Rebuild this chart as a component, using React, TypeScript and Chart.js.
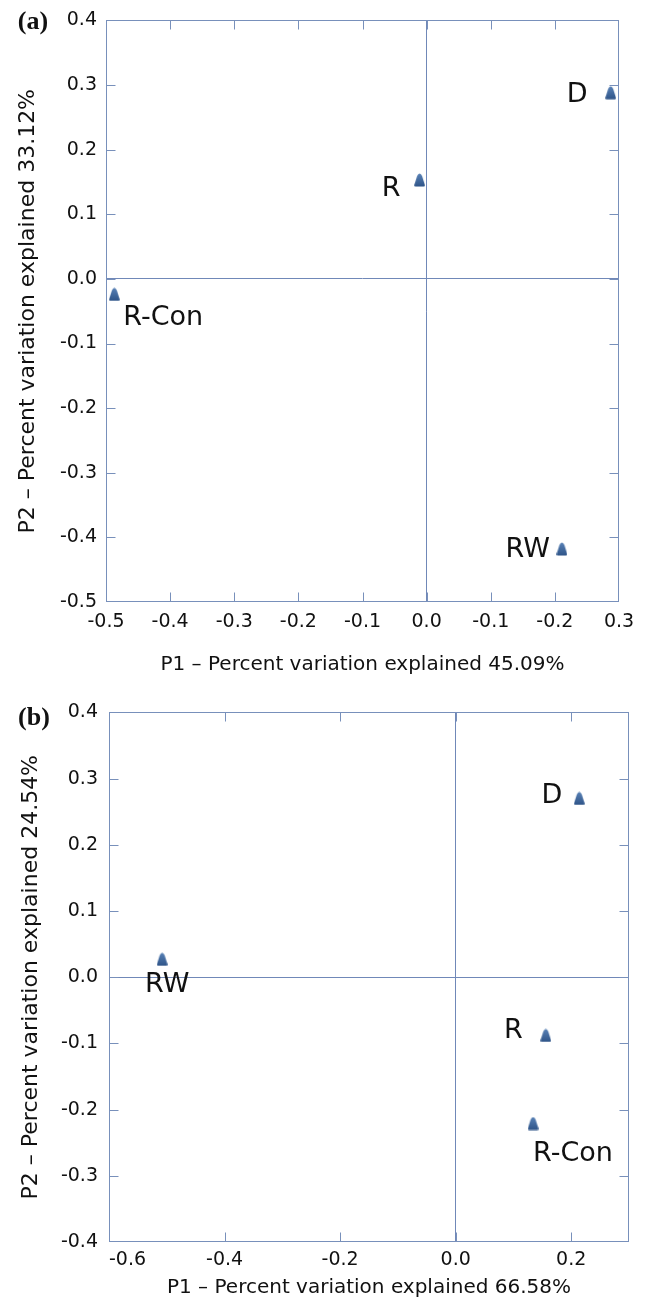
import React, { useEffect, useRef } from 'react';
import { Chart, registerables } from 'chart.js';

Chart.register(...registerables);

const FONT = '"DejaVu Sans", "Open Sans", sans-serif';
const TEXT = '#111111';
const BORDER = '#7890bb';
const ZERO = '#7088b8';
const MARK_TOP = '#5a83b8';
const MARK_BOTTOM = '#2d5286';

// ---------- Panel (a) ----------
const samplesA = ['D', 'R', 'RW', 'R-Con'];
const p1A = [0.287, -0.011, 0.211, -0.487];
const p2A = [0.288, 0.153, -0.418, -0.024];
const xTickValuesA = [-0.5, -0.4, -0.3, -0.2, -0.1, 0, 0.1, 0.2, 0.3];
const xTickLabelsA = ['-0.5', '-0.4', '-0.3', '-0.2', '-0.1', '0.0', '-0.1', '-0.2', '0.3'];
const yTickValuesA = [-0.5, -0.4, -0.3, -0.2, -0.1, 0, 0.1, 0.2, 0.3, 0.4];
const yTickLabelsA = ['-0.5', '-0.4', '-0.3', '-0.2', '-0.1', '0.0', '0.1', '0.2', '0.3', '0.4'];
const xTitleA = 'P1 – Percent variation explained 45.09%';
const yTitleA = 'P2 – Percent variation explained 33.12%';
const panelTagA = '(a)';
// label placement: [anchor, dx, dy] relative to the marker
const labelPlaceA: [string, number, number][] = [
  ['right', -23, -1],
  ['right', -19, 6],
  ['right', -12, -2],
  ['left', 9, 21],
];

// ---------- Panel (b) ----------
const samplesB = ['D', 'R', 'RW', 'R-Con'];
const p1B = [0.214, 0.156, -0.508, 0.134];
const p2B = [0.27, -0.088, 0.027, -0.221];
const xTickValuesB = [-0.6, -0.4, -0.2, 0, 0.2, 0.3];
const xTickLabelsB = ['-0.6', '-0.4', '-0.2', '0.0', '0.2', ''];
const yTickValuesB = [-0.4, -0.3, -0.2, -0.1, 0, 0.1, 0.2, 0.3, 0.4];
const yTickLabelsB = ['-0.4', '-0.3', '-0.2', '-0.1', '0.0', '0.1', '0.2', '0.3', '0.4'];
const xTitleB = 'P1 – Percent variation explained 66.58%';
const yTitleB = 'P2 – Percent variation explained 24.54%';
const panelTagB = '(b)';
const labelPlaceB: [string, number, number][] = [
  ['right', -17, -5],
  ['right', -23, -7],
  ['center', 5, 23],
  ['left', 0, 28],
];

function makeMarker(): HTMLCanvasElement {
  const c = document.createElement('canvas');
  c.width = 11;
  c.height = 14;
  const g = c.getContext('2d')!;
  const grad = g.createLinearGradient(0, 0, 0, 14);
  grad.addColorStop(0, MARK_TOP);
  grad.addColorStop(1, MARK_BOTTOM);
  g.fillStyle = grad;
  g.beginPath();
  g.moveTo(5.5, 0.5);
  g.quadraticCurveTo(7, 0.5, 8, 3);
  g.lineTo(10.8, 12);
  g.quadraticCurveTo(11, 13.6, 9.5, 13.6);
  g.lineTo(1.5, 13.6);
  g.quadraticCurveTo(0, 13.6, 0.2, 12);
  g.lineTo(3, 3);
  g.quadraticCurveTo(4, 0.5, 5.5, 0.5);
  g.closePath();
  g.fill();
  return c;
}

interface PanelProps {
  width: number;
  height: number;
  samples: string[];
  p1: number[];
  p2: number[];
  xVals: number[];
  xLabels: string[];
  yVals: number[];
  yLabels: string[];
  xTitle: string;
  yTitle: string;
  tag: string;
  place: [string, number, number][];
  padTop: number;
  padRight: number;
  yWidth: number;
  xHeight: number;
  yTickPad: number;
  xTickPad: number;
  xAlign: string;
  xTitlePadBottom: number;
  yTitlePadTop: number;
  tagX: number;
  tagY: number;
}

function labelFor(vals: number[], labels: string[], v: number): string {
  for (let i = 0; i < vals.length; i++) if (Math.abs(vals[i] - v) < 1e-9) return labels[i];
  return '';
}

function Panel(props: PanelProps) {
  const ref = useRef<HTMLCanvasElement | null>(null);
  useEffect(() => {
    if (!ref.current) return;
    const marker = makeMarker();
    const xs = props.xVals;
    const ys = props.yVals;
    const deco = {
      id: 'pcaDeco',
      afterDatasetsDraw(chart: any) {
        const ctx = chart.ctx;
        const a = chart.chartArea;
        const sx = chart.scales.x;
        const sy = chart.scales.y;
        ctx.save();
        // frame
        ctx.strokeStyle = BORDER;
        ctx.lineWidth = 1;
        const L = Math.round(a.left) + 0.5;
        const R = Math.round(a.right) - 0.5;
        const T = Math.round(a.top) + 0.5;
        const B = Math.round(a.bottom) - 0.5;
        ctx.strokeRect(L, T, R - L, B - T);
        // inward tick marks
        const len = 9;
        ctx.beginPath();
        xs.forEach((v) => {
          if (v <= sx.min + 1e-9 || v >= sx.max - 1e-9) return;
          const px = Math.round(sx.getPixelForValue(v)) + 0.5;
          ctx.moveTo(px, B);
          ctx.lineTo(px, B - len);
          ctx.moveTo(px, T);
          ctx.lineTo(px, T + len);
        });
        ys.forEach((v) => {
          if (v <= sy.min + 1e-9 || v >= sy.max - 1e-9) return;
          const py = Math.round(sy.getPixelForValue(v)) + 0.5;
          ctx.moveTo(L, py);
          ctx.lineTo(L + len, py);
          ctx.moveTo(R, py);
          ctx.lineTo(R - len, py);
        });
        ctx.stroke();
        // point labels
        const size = 27;
        ctx.font = `${size}px ${FONT}`;
        ctx.fillStyle = TEXT;
        ctx.textBaseline = 'alphabetic';
        const cap = size * 0.729;
        props.samples.forEach((name, i) => {
          const px = sx.getPixelForValue(props.p1[i]);
          const py = sy.getPixelForValue(props.p2[i]);
          const [anchor, dx, dy] = props.place[i];
          ctx.textAlign = anchor === 'right' ? 'right' : anchor === 'left' ? 'left' : 'center';
          ctx.fillText(name, px + dx, py + dy + cap / 2);
        });
        // panel tag
        ctx.font = `bold 26px "Liberation Serif", "DejaVu Serif", serif`;
        ctx.textAlign = 'center';
        ctx.textBaseline = 'middle';
        ctx.fillText(props.tag, props.tagX, props.tagY);
        ctx.restore();
      },
    };
    const chart = new Chart(ref.current, {
      type: 'scatter',
      data: {
        datasets: [
          {
            data: props.p1.map((x, i) => ({ x, y: props.p2[i] })),
            pointStyle: marker as any,
            pointRadius: 7,
            pointHoverRadius: 7,
            clip: false as any,
          },
        ],
      },
      options: {
        animation: false,
        responsive: false,
        maintainAspectRatio: false,
        events: [],
        layout: { padding: { top: props.padTop, right: props.padRight, left: 0, bottom: 0 } },
        plugins: { legend: { display: false }, tooltip: { enabled: false } },
        scales: {
          x: {
            type: 'linear',
            position: 'bottom',
            min: xs[0],
            max: xs[xs.length - 1],
            afterBuildTicks: (s: any) => {
              s.ticks = xs.map((v) => ({ value: v }));
            },
            afterFit: (s: any) => {
              s.height = props.xHeight;
            },
            ticks: {
              autoSkip: false,
              maxRotation: 0,
              minRotation: 0,
              padding: props.xTickPad,
              align: props.xAlign as any,
              color: TEXT,
              font: { family: FONT, size: 19 },
              callback: (v: any) => labelFor(xs, props.xLabels, Number(v)),
            },
            grid: {
              drawTicks: false,
              color: (c: any) => (c.tick && Math.abs(c.tick.value) < 1e-9 ? ZERO : 'rgba(0,0,0,0)'),
              lineWidth: 1,
            },
            border: { display: false },
            title: {
              display: true,
              text: props.xTitle,
              color: TEXT,
              font: { family: FONT, size: 20 },
              padding: { top: 0, bottom: props.xTitlePadBottom },
            },
          },
          y: {
            type: 'linear',
            position: 'left',
            min: ys[0],
            max: ys[ys.length - 1],
            afterBuildTicks: (s: any) => {
              s.ticks = ys.map((v) => ({ value: v }));
            },
            afterFit: (s: any) => {
              s.width = props.yWidth;
            },
            ticks: {
              autoSkip: false,
              padding: props.yTickPad,
              color: TEXT,
              font: { family: FONT, size: 19 },
              callback: (v: any) => labelFor(ys, props.yLabels, Number(v)),
            },
            grid: {
              drawTicks: false,
              color: (c: any) => (c.tick && Math.abs(c.tick.value) < 1e-9 ? ZERO : 'rgba(0,0,0,0)'),
              lineWidth: 1,
            },
            border: { display: false },
            title: {
              display: true,
              text: props.yTitle,
              color: TEXT,
              font: { family: FONT, size: 22 },
              padding: { top: props.yTitlePadTop, bottom: 0 },
            },
          },
        },
      },
      plugins: [deco],
    } as any);
    return () => chart.destroy();
  }, []);
  return <canvas ref={ref} width={props.width} height={props.height} style={{ display: 'block' }} />;
}

export default function App() {
  return (
    <div style={{ position: 'absolute', left: 0, top: 0, width: 646, height: 1302, background: '#fff' }}>
      <div style={{ position: 'absolute', left: 0, top: 0 }}>
        <Panel
          width={646}
          height={690}
          samples={samplesA}
          p1={p1A}
          p2={p2A}
          xVals={xTickValuesA}
          xLabels={xTickLabelsA}
          yVals={yTickValuesA}
          yLabels={yTickLabelsA}
          xTitle={xTitleA}
          yTitle={yTitleA}
          tag={panelTagA}
          place={labelPlaceA}
          padTop={12}
          padRight={27}
          yWidth={106}
          xHeight={88}
          yTickPad={9}
          xTickPad={9}
          xAlign="center"
          xTitlePadBottom={13}
          yTitlePadTop={15}
          tagX={33}
          tagY={22}
        />
      </div>
      <div style={{ position: 'absolute', left: 0, top: 690 }}>
        <Panel
          width={646}
          height={612}
          samples={samplesB}
          p1={p1B}
          p2={p2B}
          xVals={xTickValuesB}
          xLabels={xTickLabelsB}
          yVals={yTickValuesB}
          yLabels={yTickLabelsB}
          xTitle={xTitleB}
          yTitle={yTitleB}
          tag={panelTagB}
          place={labelPlaceB}
          padTop={18}
          padRight={17}
          yWidth={109}
          xHeight={60}
          yTickPad={11}
          xTickPad={7}
          xAlign="inner"
          xTitlePadBottom={2}
          yTitlePadTop={18}
          tagX={34}
          tagY={28}
        />
      </div>
    </div>
  );
}
